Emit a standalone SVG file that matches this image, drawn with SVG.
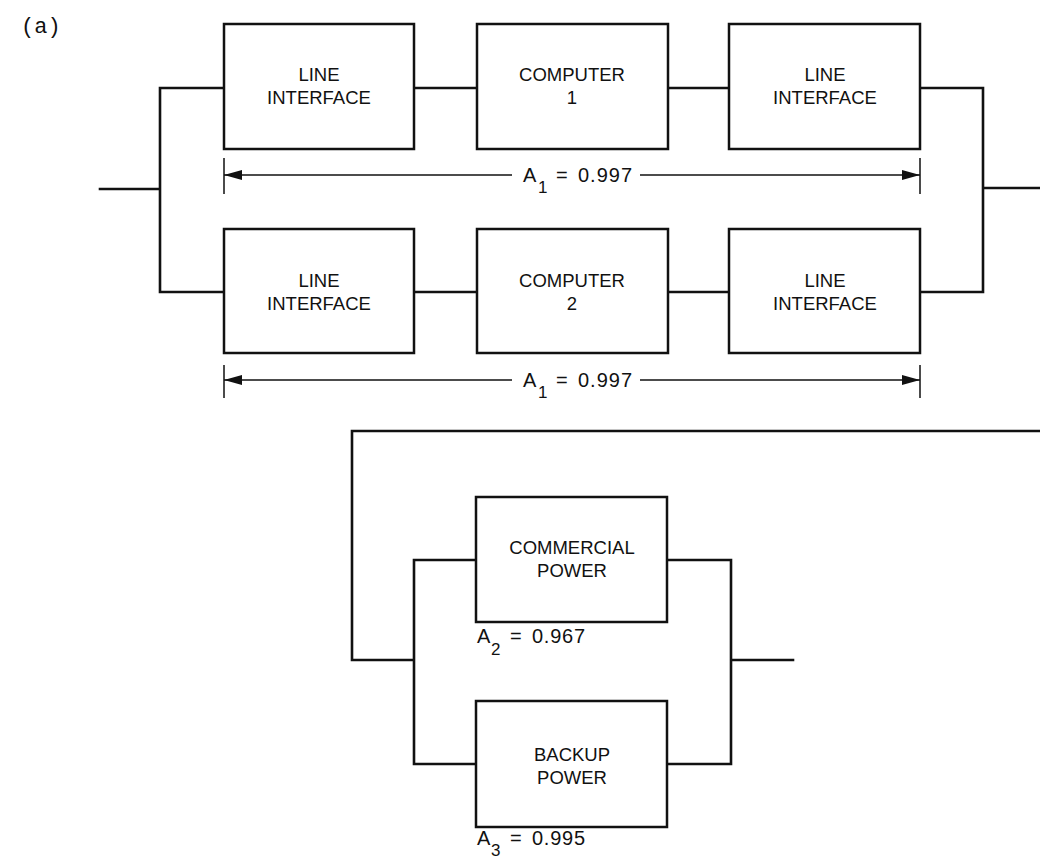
<svg xmlns="http://www.w3.org/2000/svg" width="1040" height="860" viewBox="0 0 1040 860">
<style>
.box{fill:#fff;stroke:#111;stroke-width:2.5}
.wire{fill:none;stroke:#111;stroke-width:2.6;stroke-linejoin:miter;stroke-linecap:square}
.dim{fill:none;stroke:#111;stroke-width:1.5}
.t{font-family:"Liberation Sans",Arial,sans-serif;font-size:18.5px;fill:#111;text-anchor:middle}
.lab{font-family:"Liberation Sans",Arial,sans-serif;font-size:20px;fill:#111}
.sub{font-size:17px}
.tag{font-family:"Liberation Mono","Courier New",monospace;font-size:22px;fill:#111}
</style>
<defs>
<marker id="ah" viewBox="0 0 18 10" refX="18" refY="5" markerWidth="18" markerHeight="10" markerUnits="userSpaceOnUse" orient="auto">
<path d="M0,0 L18,5 L0,10 Z" fill="#111"/>
</marker>
</defs>
<rect width="1040" height="860" fill="#fff"/>
<text class="tag" x="21" y="33">(a)</text>

<g id="connectors">
<path class="wire" d="M100,189 H160 M160,88 V292 M160,88 H224 M160,292 H224"/>
<path class="wire" d="M414,88 H477 M668,88 H729 M414,292 H477 M668,292 H729"/>
<path class="wire" d="M920,88 H983 M920,292 H983 M983,88 V292 M983,188 H1040"/>
<path class="wire" d="M1040,431 H352 V660 H414 M414,560 V764 M414,560 H476 M414,764 H476"/>
<path class="wire" d="M667,560 H731 M667,764 H731 M731,560 V764 M731,660 H793"/>
<path class="dim" d="M224,158 V194 M920,158 V194 M224,365 V398 M920,365 V398"/>
<line class="dim" x1="512" y1="175" x2="224" y2="175" marker-end="url(#ah)"/>
<line class="dim" x1="640" y1="175" x2="920" y2="175" marker-end="url(#ah)"/>
<line class="dim" x1="512" y1="380" x2="224" y2="380" marker-end="url(#ah)"/>
<line class="dim" x1="640" y1="380" x2="920" y2="380" marker-end="url(#ah)"/>
</g>

<g id="li1a"><rect class="box" x="224" y="24" width="190" height="125"/><text class="t" x="319" y="81">LINE</text><text class="t" x="319" y="104">INTERFACE</text></g>
<g id="comp1"><rect class="box" x="477" y="24" width="191" height="125"/><text class="t" x="572" y="81">COMPUTER</text><text class="t" x="572" y="104">1</text></g>
<g id="li1b"><rect class="box" x="729" y="24" width="191" height="125"/><text class="t" x="825" y="81">LINE</text><text class="t" x="825" y="104">INTERFACE</text></g>

<g id="li2a"><rect class="box" x="224" y="229" width="190" height="124"/><text class="t" x="319" y="287">LINE</text><text class="t" x="319" y="310">INTERFACE</text></g>
<g id="comp2"><rect class="box" x="477" y="229" width="191" height="124"/><text class="t" x="572" y="287">COMPUTER</text><text class="t" x="572" y="310">2</text></g>
<g id="li2b"><rect class="box" x="729" y="229" width="191" height="124"/><text class="t" x="825" y="287">LINE</text><text class="t" x="825" y="310">INTERFACE</text></g>

<g id="commercial"><rect class="box" x="476" y="497" width="191" height="125"/><text class="t" x="572" y="554">COMMERCIAL</text><text class="t" x="572" y="577">POWER</text></g>
<g id="backup"><rect class="box" x="476" y="701" width="191" height="126"/><text class="t" x="572" y="761">BACKUP</text><text class="t" x="572" y="784">POWER</text></g>

<g id="labels">
<text class="lab" x="523" y="182">A<tspan class="sub" x="538" y="193">1</tspan><tspan x="556" y="182">=</tspan><tspan x="578" y="182" textLength="54">0.997</tspan></text>
<text class="lab" x="523" y="387">A<tspan class="sub" x="538" y="398">1</tspan><tspan x="556" y="387">=</tspan><tspan x="578" y="387" textLength="54">0.997</tspan></text>
<text class="lab" x="477" y="643">A<tspan class="sub" x="491" y="655">2</tspan><tspan x="510" y="643">=</tspan><tspan x="532" y="643" textLength="53">0.967</tspan></text>
<text class="lab" x="477" y="845">A<tspan class="sub" x="491" y="856">3</tspan><tspan x="510" y="845">=</tspan><tspan x="532" y="845" textLength="53">0.995</tspan></text>
</g>
</svg>
